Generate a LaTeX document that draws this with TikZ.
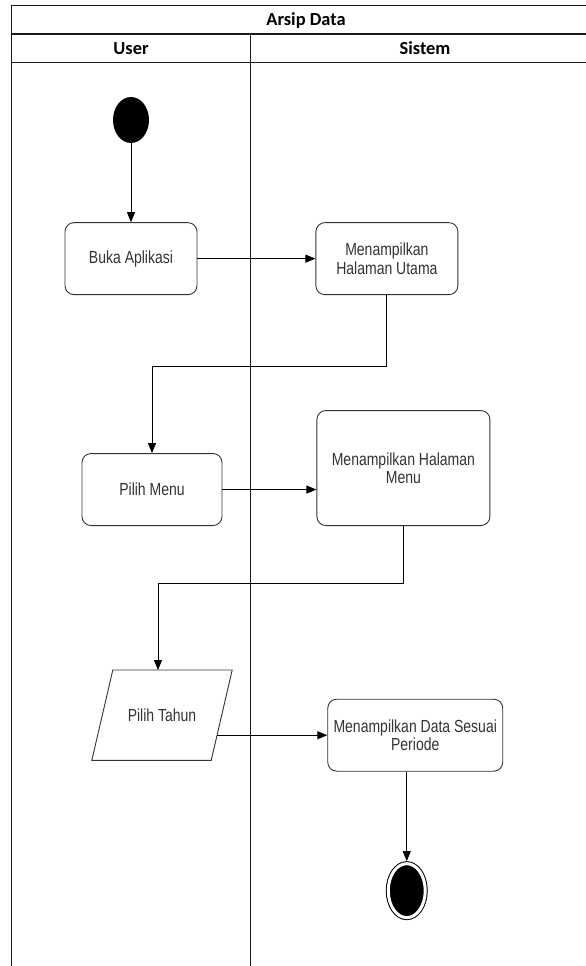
\documentclass[tikz,border=0pt]{standalone}
\usepackage{fontspec}
\setmainfont[FakeStretch=0.8]{Liberation Sans}
\newfontfamily\lanefont{Carlito}
\usetikzlibrary{shapes.geometric, arrows.meta, positioning}

\newcommand{\boxfont}{\fontsize{17.5}{18.5}\selectfont}
\newcommand{\lanetitle}{\lanefont\bfseries\fontsize{18.4}{20}\selectfont}

\begin{document}
\begin{tikzpicture}[
        x=1pt, y=-1pt,
        aksi/.style={rectangle, draw=black!80, rounded corners=9pt, line width=0.9pt, align=center, font=\boxfont, text=black!80, minimum height=72pt},
        masukan/.style={rectangle, font=\boxfont, text=black!80, minimum width=119pt, minimum height=90pt},
        garis/.style={draw=black!80, line width=0.9pt},
        mulai/.style={ellipse, fill=black, minimum width=36pt, minimum height=46pt},
        selesai/.style={ellipse, draw=black, fill=black, double=white, double distance=3pt, line width=1pt, minimum width=37pt, minimum height=54pt, outer sep=2.5pt},
        arrow/.style={-{Triangle[length=10pt, width=8pt]}, line width=0.9pt},
        lane/.style={line width=1.3pt, draw=black!90},
        labelstyle/.style={font=\lanetitle}
    ]
    \useasboundingbox (0,0) rectangle (586,966);
    % swimlane frame (right and bottom edges are cut off)
    \begin{scope}
        \clip (0,0) rectangle (586,966);
        \draw [lane] (11.7,5.7) rectangle (600,990);
        \draw [lane] (11.7,34) -- (600,34);
        \draw [lane] (11.7,62.7) -- (600,62.7);
        \draw [lane] (250.5,34) -- (250.5,990);
    \end{scope}
    \node (judul) [labelstyle] at (306,20) {Arsip Data};
    \node (user) [labelstyle] at (131,48.5) {User};
    \node (sistem) [labelstyle] at (425,48.5) {Sistem};

    \node (mulai) [mulai] at (131,120) {};
    \node (buka) [aksi, minimum width=132pt, below=79pt of mulai] {Buka Aplikasi};
    \node (utama) [aksi, minimum width=142pt, right=118pt of buka] {Menampilkan \\ Halaman Utama};
    \node (pilihmenu) [aksi, minimum width=140pt, below=158pt of buka, xshift=21pt] {Pilih Menu};
    \node (halmenu) [aksi, minimum width=173pt, minimum height=115pt, right=94pt of pilihmenu, yshift=21.5pt] {Menampilkan Halaman \\ Menu};
    \node (tahun) [masukan, below=144pt of pilihmenu, xshift=10pt] {Pilih Tahun};
    % slanted input box
    \draw [garis] ([xshift=10.5pt]tahun.north west) -- ([xshift=10.5pt]tahun.north east)
        -- ([xshift=-10.5pt]tahun.south east) -- ([xshift=-10.5pt]tahun.south west) -- cycle;
    \coordinate (tahunkanan) at ([xshift=-4.7pt, yshift=-20pt]tahun.east);
    \node (data) [aksi, minimum width=175pt, right=110.3pt of tahunkanan] {Menampilkan Data Sesuai \\ Periode};
    \node (selesai) [selesai, below=89.5pt of data, xshift=-8.5pt] {};

    \draw [arrow] (mulai) -- (buka);
    \draw [arrow] (buka) -- (utama);
    \draw [arrow] (utama.south) -- ++(0,71) -| (pilihmenu.north);
    \draw [arrow] (pilihmenu.east) -- (pilihmenu.east -| halmenu.west);
    \draw [arrow] (halmenu.south) -- ++(0,57) -| ([xshift=-4pt]tahun.north);
    \draw [arrow] (tahunkanan) -- (data.west);
    \draw [arrow] (data.south -| selesai.north) -- (selesai.north);
\end{tikzpicture}
\end{document}
